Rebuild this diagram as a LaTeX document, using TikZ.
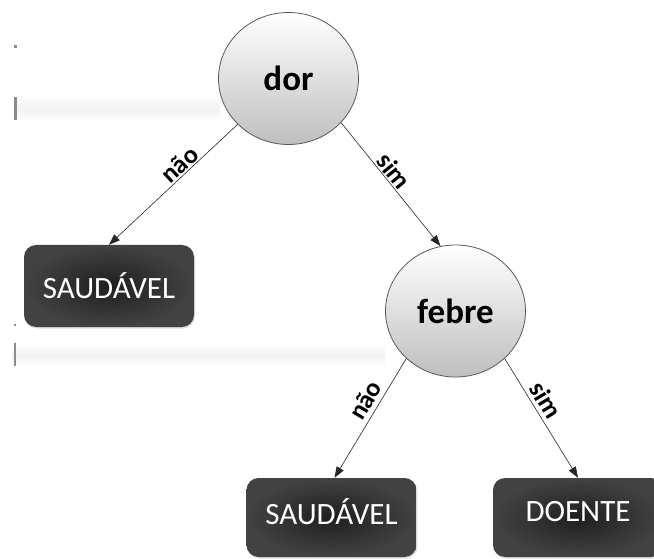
\documentclass[tikz,border=0pt]{standalone}
\usepackage{fontspec}
\setmainfont{Carlito}
\usetikzlibrary{shapes.geometric,arrows.meta,shadows}
\begin{document}
\begin{tikzpicture}[x=1pt,y=1pt,
  decision/.style={ellipse, draw=black!65, line width=0.8pt, minimum width=140pt, minimum height=132pt, inner sep=0pt, top color=white, bottom color=black!25, font=\fontsize{35}{38}\selectfont\bfseries},
  leaf/.style={rectangle, rounded corners=12pt, minimum width=170pt, minimum height=82pt, inner sep=0pt, text=white, font=\fontsize{31}{34}\selectfont, inner color=black!88, outer color=black!74, drop shadow={opacity=0.25,shadow xshift=1pt,shadow yshift=-1.5pt}},
  edge/.style={line width=0.6pt, draw=black!85, -{Triangle[length=11pt,width=8pt]}},
  elabel/.style={font=\fontsize{26}{28}\selectfont\bfseries, inner sep=0pt},
  band/.style={top color=white, bottom color=white, middle color=black!5, draw=none},
  speck/.style={fill=black!45, draw=none}
]
\useasboundingbox (0,0) rectangle (654,558);
\clip (0,0) rectangle (654,558);
\fill[white] (0,0) rectangle (654,558);
% faint scan artifacts at the left edge
\shade[band] (14,436) rectangle (220,463);
\shade[band] (12,191) rectangle (385,215);
\fill[speck] (14,510) rectangle (17,513);
\fill[speck] (14,438) rectangle (17,461);
\fill[speck] (14,192) rectangle (16,215);
\fill[speck] (14,232) rectangle (16,234);

\node[decision] (dor) at (288.5,479.5) {dor};
\node[decision] (febre) at (455.5,247) {febre};
\node[leaf] (L1) at (109,272) {SAUDÁVEL};
\node[leaf, minimum height=79pt] (L2) at (331.5,40.5) {\raisebox{12pt}{SAUDÁVEL}};
\node[leaf, minimum height=79pt] (L3) at (578,40.5) {\raisebox{12pt}{DOENTE}};

\draw[edge] (dor.222) -- (L1.north);
\draw[edge] (dor.320) -- (febre.103);
\draw[edge] (febre.224) -- ([xshift=3pt]L2.north);
\draw[edge] (febre.316) -- (L3.north);

\node[elabel, rotate=43] (l1) at (179.5,393.5) {não};
\node[elabel, rotate=-51] (l2) at (394,387) {sim};
\node[elabel, rotate=59] (l3) at (365,158) {não};
\node[elabel, rotate=-59] (l4) at (546,158) {sim};
\end{tikzpicture}
\end{document}
